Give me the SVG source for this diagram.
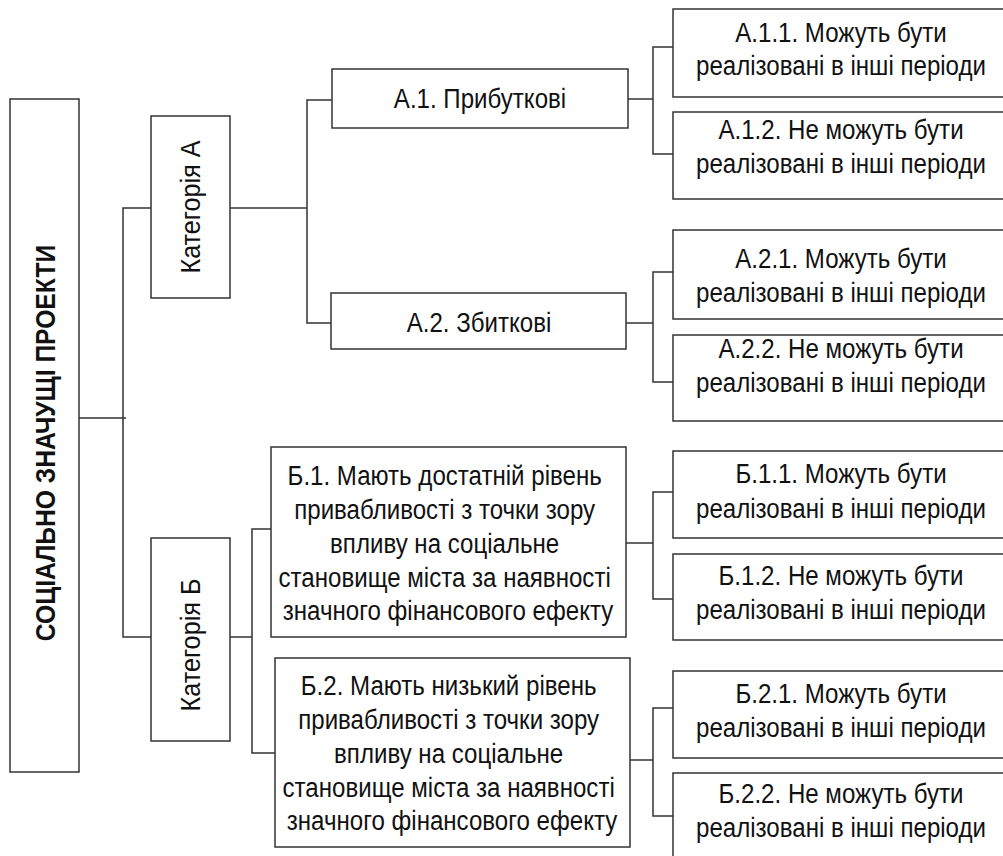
<svg xmlns="http://www.w3.org/2000/svg" width="1003" height="856" viewBox="0 0 1003 856">
  <style>
    .box { fill: #ffffff; stroke: #333333; stroke-width: 1.5; }
    .link { fill: none; stroke: #333333; stroke-width: 1.5; }
    .t { font-family: "Liberation Sans", Arial, sans-serif; font-size: 28px; fill: #111111; text-anchor: middle; }
    .title { font-weight: bold; }
  </style>
  <rect width="1003" height="856" fill="#ffffff"/>

  <!-- connectors -->
  <g id="connectors">
    <path class="link" d="M79,418 H126"/>
    <path class="link" d="M151,208 H123 V637 H151"/>
    <path class="link" d="M230,208 H307"/>
    <path class="link" d="M332,100 H307 V323 H331"/>
    <path class="link" d="M230,637 H252"/>
    <path class="link" d="M271,529 H252 V753 H275"/>
    <path class="link" d="M628,99 H653"/>
    <path class="link" d="M673,47 H653 V154 H673"/>
    <path class="link" d="M626,323 H653"/>
    <path class="link" d="M673,272 H653 V382 H673"/>
    <path class="link" d="M626,543 H653"/>
    <path class="link" d="M673,492 H653 V599 H673"/>
    <path class="link" d="M630,760 H653"/>
    <path class="link" d="M673,708 H653 V816 H673"/>
  </g>

  <!-- root -->
  <g id="root">
    <rect class="box" x="10" y="99" width="69" height="673"/>
    <text class="t title" transform="translate(55,443) rotate(-90) scale(0.88,1)" x="0" y="0">СОЦІАЛЬНО ЗНАЧУЩІ ПРОЕКТИ</text>
  </g>

  <!-- categories -->
  <g id="cat-a">
    <rect class="box" x="151" y="116" width="79" height="182"/>
    <text class="t" transform="translate(200,207) rotate(-90) scale(0.9,1)" x="0" y="0">Категорія А</text>
  </g>
  <g id="cat-b">
    <rect class="box" x="151" y="538" width="79" height="203"/>
    <text class="t" transform="translate(200,645) rotate(-90) scale(0.9,1)" x="0" y="0">Категорія Б</text>
  </g>

  <!-- second level -->
  <g id="a1">
    <rect class="box" x="332" y="69" width="296" height="59"/>
    <text class="t" transform="translate(480,0) scale(0.86,1)" x="0" y="108">А.1. Прибуткові</text>
  </g>
  <g id="a2">
    <rect class="box" x="331" y="293" width="295" height="56"/>
    <text class="t" transform="translate(479,0) scale(0.86,1)" x="0" y="332">А.2. Збиткові</text>
  </g>
  <g id="b1">
    <rect class="box" x="271" y="447" width="355" height="190"/>
    <text class="t" transform="translate(448,0) scale(0.86,1)">
      <tspan x="0" y="485">Б.1. Мають достатній рівень</tspan>
      <tspan x="0" y="519">привабливості з точки зору</tspan>
      <tspan x="0" y="553">впливу на соціальне</tspan>
      <tspan x="0" y="587">становище міста за наявності</tspan>
      <tspan x="0" y="620">значного фінансового ефекту</tspan>
    </text>
  </g>
  <g id="b2">
    <rect class="box" x="275" y="658" width="355" height="189"/>
    <text class="t" transform="translate(452,0) scale(0.86,1)">
      <tspan x="0" y="695">Б.2. Мають низький рівень</tspan>
      <tspan x="0" y="729">привабливості з точки зору</tspan>
      <tspan x="0" y="763">впливу на соціальне</tspan>
      <tspan x="0" y="797">становище міста за наявності</tspan>
      <tspan x="0" y="830">значного фінансового ефекту</tspan>
    </text>
  </g>

  <!-- leaves -->
  <g id="a11">
    <rect class="box" x="673" y="9" width="340" height="88"/>
    <text class="t" transform="translate(841,0) scale(0.86,1)"><tspan x="0" y="42">А.1.1. Можуть бути</tspan><tspan x="0" y="75">реалізовані в інші періоди</tspan></text>
  </g>
  <g id="a12">
    <rect class="box" x="673" y="112" width="340" height="87"/>
    <text class="t" transform="translate(841,0) scale(0.86,1)"><tspan x="0" y="139">А.1.2. Не можуть бути</tspan><tspan x="0" y="173">реалізовані в інші періоди</tspan></text>
  </g>
  <g id="a21">
    <rect class="box" x="673" y="230" width="340" height="89"/>
    <text class="t" transform="translate(841,0) scale(0.86,1)"><tspan x="0" y="268">А.2.1. Можуть бути</tspan><tspan x="0" y="302">реалізовані в інші періоди</tspan></text>
  </g>
  <g id="a22">
    <rect class="box" x="673" y="335" width="340" height="86"/>
    <text class="t" transform="translate(841,0) scale(0.86,1)"><tspan x="0" y="358">А.2.2. Не можуть бути</tspan><tspan x="0" y="392">реалізовані в інші періоди</tspan></text>
  </g>
  <g id="b11">
    <rect class="box" x="673" y="451" width="340" height="87"/>
    <text class="t" transform="translate(841,0) scale(0.86,1)"><tspan x="0" y="483">Б.1.1. Можуть бути</tspan><tspan x="0" y="518">реалізовані в інші періоди</tspan></text>
  </g>
  <g id="b12">
    <rect class="box" x="673" y="554" width="340" height="86"/>
    <text class="t" transform="translate(841,0) scale(0.86,1)"><tspan x="0" y="585">Б.1.2. Не можуть бути</tspan><tspan x="0" y="619">реалізовані в інші періоди</tspan></text>
  </g>
  <g id="b21">
    <rect class="box" x="673" y="671" width="340" height="87"/>
    <text class="t" transform="translate(841,0) scale(0.86,1)"><tspan x="0" y="703">Б.2.1. Можуть бути</tspan><tspan x="0" y="737">реалізовані в інші періоди</tspan></text>
  </g>
  <g id="b22">
    <rect class="box" x="673" y="773" width="340" height="90"/>
    <text class="t" transform="translate(841,0) scale(0.86,1)"><tspan x="0" y="803">Б.2.2. Не можуть бути</tspan><tspan x="0" y="837">реалізовані в інші періоди</tspan></text>
  </g>
</svg>
